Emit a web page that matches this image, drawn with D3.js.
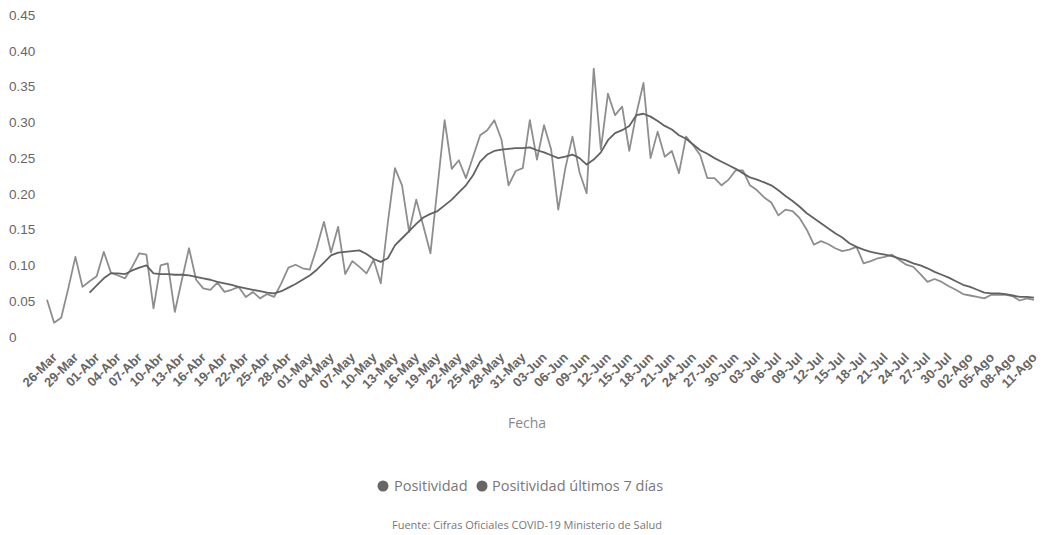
<!DOCTYPE html>
<html>
<head>
<meta charset="utf-8">
<script src="https://cdn.jsdelivr.net/npm/d3@7"></script>
<style>
  html, body { margin: 0; padding: 0; background: #fff; }
  svg { display: block; font-family: "Open Sans", "DejaVu Sans", sans-serif; }
</style>
</head>
<body>
<svg id="chart" width="1042" height="535"></svg>
<script>
// ---- data ----
const startDate = new Date(2020, 2, 26);
const endDate = new Date(2020, 7, 13); // exclusive -> last day 12-Ago
const monthNames = ["Ene","Feb","Mar","Abr","May","Jun","Jul","Ago","Sep","Oct","Nov","Dic"];

const positividad = [
  0.052,0.020,0.027,0.068,0.112,0.070,0.078,0.085,0.119,0.090,
  0.086,0.082,0.098,0.117,0.115,0.040,0.100,0.103,0.035,0.080,
  0.124,0.080,0.068,0.066,0.076,0.063,0.066,0.070,0.056,0.063,
  0.054,0.060,0.056,0.075,0.097,0.101,0.096,0.094,0.125,0.161,
  0.118,0.154,0.088,0.106,0.098,0.089,0.108,0.075,0.160,0.236,
  0.212,0.147,0.192,0.155,0.117,0.210,0.303,0.235,0.247,0.222,
  0.252,0.282,0.289,0.303,0.276,0.212,0.232,0.236,0.303,0.248,
  0.296,0.262,0.178,0.236,0.280,0.230,0.201,0.375,0.262,0.340,
  0.310,0.322,0.260,0.312,0.355,0.250,0.287,0.252,0.260,0.229,
  0.280,0.268,0.254,0.222,0.222,0.212,0.220,0.233,0.233,0.212,
  0.205,0.195,0.188,0.170,0.178,0.176,0.166,0.150,0.129,0.134,
  0.130,0.124,0.120,0.122,0.126,0.103,0.106,0.110,0.112,0.115,
  0.108,0.101,0.098,0.088,0.077,0.081,0.077,0.071,0.066,0.060,
  0.058,0.056,0.054,0.059,0.059,0.059,0.057,0.051,0.054,0.052
];

const positividad7 = [
  null,null,null,null,null,null,0.062,0.072,0.082,0.089,
  0.089,0.088,0.093,0.097,0.100,0.089,0.088,0.088,0.087,0.087,
  0.086,0.084,0.082,0.080,0.077,0.075,0.073,0.070,0.068,0.066,
  0.064,0.062,0.061,0.064,0.069,0.074,0.080,0.086,0.094,0.104,
  0.114,0.118,0.119,0.120,0.121,0.116,0.109,0.105,0.110,0.128,
  0.138,0.148,0.158,0.167,0.172,0.176,0.184,0.192,0.202,0.212,
  0.226,0.245,0.255,0.260,0.262,0.263,0.264,0.264,0.265,0.261,
  0.258,0.254,0.250,0.252,0.255,0.250,0.241,0.248,0.258,0.275,
  0.285,0.289,0.295,0.310,0.312,0.308,0.302,0.295,0.290,0.282,
  0.277,0.269,0.261,0.256,0.250,0.245,0.240,0.235,0.229,0.223,
  0.220,0.216,0.212,0.205,0.197,0.190,0.182,0.173,0.166,0.159,
  0.152,0.145,0.139,0.131,0.126,0.122,0.119,0.117,0.115,0.113,
  0.110,0.107,0.103,0.100,0.096,0.091,0.087,0.083,0.078,0.073,
  0.070,0.066,0.062,0.061,0.061,0.060,0.058,0.056,0.056,0.055
];

const xTickLabels = [
  "26-Mar","29-Mar","01-Abr","04-Abr","07-Abr","10-Abr","13-Abr","16-Abr","19-Abr","22-Abr",
  "25-Abr","28-Abr","01-May","04-May","07-May","10-May","13-May","16-May","19-May","22-May",
  "25-May","28-May","31-May","03-Jun","06-Jun","09-Jun","12-Jun","15-Jun","18-Jun","21-Jun",
  "24-Jun","27-Jun","30-Jun","03-Jul","06-Jul","09-Jul","12-Jul","15-Jul","18-Jul","21-Jul",
  "24-Jul","27-Jul","30-Jul","02-Ago","05-Ago","08-Ago","11-Ago"
];
const yTicks = [0,0.05,0.10,0.15,0.20,0.25,0.30,0.35,0.40,0.45];

const seriesNames = ["Positividad", "Positividad últimos 7 días"];
const seriesColors = ["#8e8e8e", "#626262"];
const legendColor = "#666";
const xTitle = "Fecha";
const sourceText = "Fuente: Cifras Oficiales COVID-19 Ministerio de Salud";

// ---- build ----
const fmtDay = d => String(d.getDate()).padStart(2, "0") + "-" + monthNames[d.getMonth()];
const categories = d3.timeDay.range(startDate, endDate).map(fmtDay);

const svg = d3.select("#chart");

const x = d3.scalePoint().domain(categories).range([47, 1034]);
const y = d3.scaleLinear().domain([0, 0.45]).range([337, 15]);

// y axis
const yAxis = svg.append("g")
  .call(d3.axisLeft(y).tickValues(yTicks).tickSize(0)
    .tickFormat(d => d === 0 ? "0" : d3.format(".2f")(d)));
yAxis.select(".domain").remove();
yAxis.selectAll("text")
  .attr("x", 9).attr("text-anchor", "start")
  .style("font-size", "13.5px").style("fill", "#666");

// x axis
const xAxis = svg.append("g").attr("transform", "translate(0,348)")
  .call(d3.axisBottom(x).tickValues(xTickLabels).tickSize(0));
xAxis.select(".domain").remove();
xAxis.selectAll("text")
  .attr("x", null).attr("y", null).attr("dy", "0.35em")
  .attr("text-anchor", "end")
  .attr("transform", "translate(7,7) rotate(-45)")
  .style("font-size", "13px").style("font-weight", "bold").style("fill", "#666");

svg.append("text")
  .attr("x", 527).attr("y", 428).attr("text-anchor", "middle")
  .style("font-size", "14px").style("fill", "#888")
  .text(xTitle);

// lines
const lineGen = d3.line()
  .defined(d => d.v !== null)
  .x(d => x(d.c))
  .y(d => y(d.v));

const series = [positividad, positividad7];
series.forEach((vals, i) => {
  const data = categories.map((c, j) => ({ c, v: vals[j] === undefined ? null : vals[j] }));
  svg.append("path")
    .datum(data)
    .attr("fill", "none")
    .attr("stroke", seriesColors[i])
    .attr("stroke-width", 1.8)
    .attr("stroke-linejoin", "round")
    .attr("d", lineGen);
});

// legend
const legendItems = [
  { name: seriesNames[0], cx: 383, tx: 394 },
  { name: seriesNames[1], cx: 482, tx: 492 }
];
const lg = svg.append("g");
legendItems.forEach(it => {
  lg.append("circle").attr("cx", it.cx).attr("cy", 486).attr("r", 5.5).attr("fill", legendColor);
  lg.append("text").attr("x", it.tx).attr("y", 491)
    .style("font-size", "14.5px").style("fill", "#777").text(it.name);
});

svg.append("text")
  .attr("x", 527).attr("y", 529).attr("text-anchor", "middle")
  .style("font-size", "11px").style("fill", "#777")
  .text(sourceText);
</script>
</body>
</html>
